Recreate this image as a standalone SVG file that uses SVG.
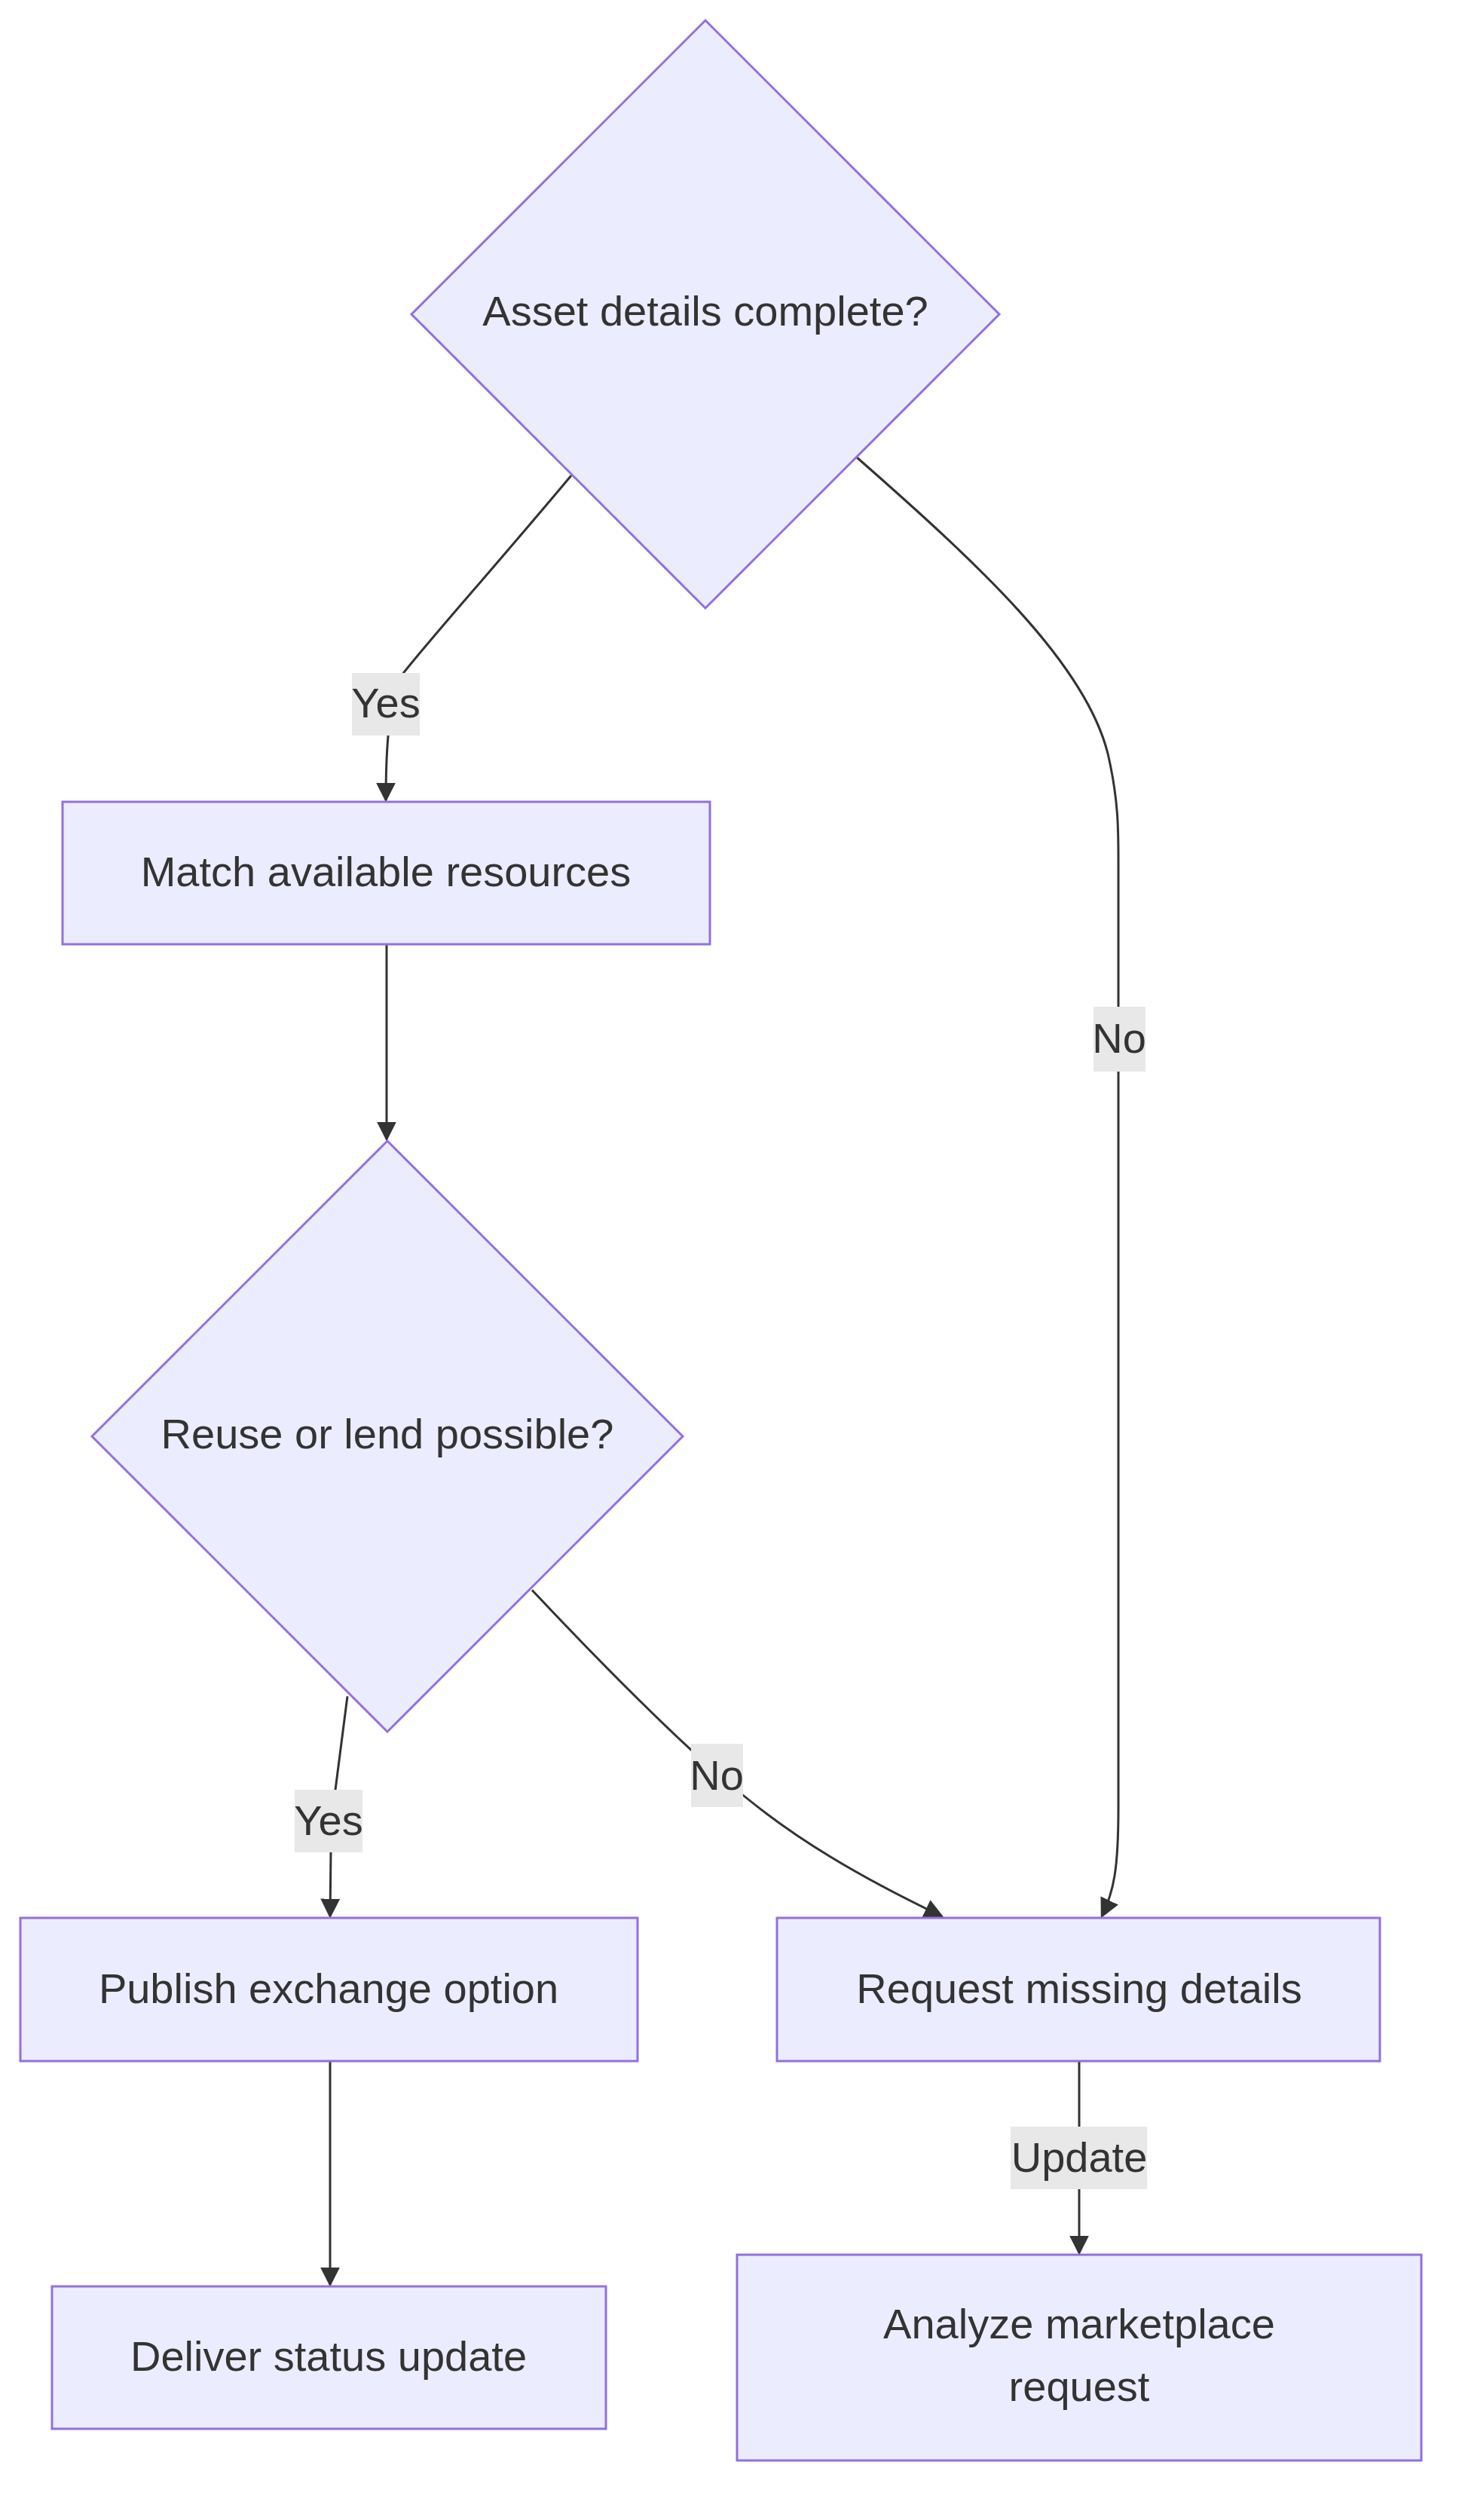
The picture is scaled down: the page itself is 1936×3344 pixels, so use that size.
<svg xmlns="http://www.w3.org/2000/svg" width="1936" height="3344" viewBox="0 0 1936 3344">
<style>
.n{fill:#ECECFF;stroke:#9370DB;stroke-width:3}
.t{font-family:"Liberation Sans",Arial,sans-serif;font-size:56px;fill:#333;text-anchor:middle;dominant-baseline:central}
.e{fill:none;stroke:#333;stroke-width:3}
.lb{fill:#E8E8E8}
</style>
<defs><marker id="a" viewBox="0 0 10 10" refX="10" refY="5" markerWidth="10" markerHeight="10" markerUnits="userSpaceOnUse" orient="auto"><path d="M0,0L10,5L0,10z" fill="#333"/></marker>
<marker id="b" viewBox="0 0 10 10" refX="9" refY="5" markerWidth="26" markerHeight="26" markerUnits="userSpaceOnUse" orient="auto"><path d="M0,0L10,5L0,10z" fill="#333"/></marker></defs>
<rect width="1936" height="3344" fill="#fff"/>
<g id="edges">
<path class="e" marker-end="url(#b)" d="M758,631 C650,760 560,860 530,900 C515,940 512,1000 512,1062"/>
<path class="e" marker-end="url(#b)" d="M1137,607 C1300,750 1440,880 1470,1000 C1484,1060 1484,1100 1484,1140 L1484,2400 C1484,2480 1478,2510 1462,2543"/>
<path class="e" marker-end="url(#b)" d="M513,1253 L513,1512"/>
<path class="e" marker-end="url(#b)" d="M461,2251 L445,2375 L439,2458 L438,2543"/>
<path class="e" marker-end="url(#b)" d="M706,2110 C800,2210 900,2310 960,2360 C1050,2440 1150,2495 1250,2543"/>
<path class="e" marker-end="url(#b)" d="M438,2735 L438,3032"/>
<path class="e" marker-end="url(#b)" d="M1432,2735 L1432,2990"/>
<rect class="lb" x="467" y="893" width="90" height="83"/><text class="t" x="512" y="932">Yes</text>
<rect class="lb" x="1451" y="1336" width="69" height="86"/><text class="t" x="1485" y="1377">No</text>
<rect class="lb" x="391" y="2375" width="90" height="83"/><text class="t" x="436" y="2415">Yes</text>
<rect class="lb" x="917" y="2314" width="69" height="84"/><text class="t" x="951" y="2355">No</text>
<rect class="lb" x="1341" y="2822" width="181" height="83"/><text class="t" x="1432" y="2862">Update</text>
</g>
<g id="n1"><path class="n" d="M936,27 L1326,417 L936,807 L546,417Z"/><text class="t" x="936" y="412">Asset details complete?</text></g>
<g id="n2"><rect class="n" x="83" y="1064" width="859" height="189"/><text class="t" x="512" y="1156">Match available resources</text></g>
<g id="n3"><path class="n" d="M514,1514 L906,1906 L514,2298 L122,1906Z"/><text class="t" x="514" y="1902">Reuse or lend possible?</text></g>
<g id="n4"><rect class="n" x="27" y="2545" width="819" height="190"/><text class="t" x="436" y="2638">Publish exchange option</text></g>
<g id="n5"><rect class="n" x="1031" y="2545" width="800" height="190"/><text class="t" x="1432" y="2638">Request missing details</text></g>
<g id="n6"><rect class="n" x="69" y="3034" width="735" height="189"/><text class="t" x="436" y="3126">Deliver status update</text></g>
<g id="n7"><rect class="n" x="978" y="2992" width="908" height="273"/><text class="t" x="1432" y="3083">Analyze marketplace</text><text class="t" x="1432" y="3166">request</text></g>
</svg>
